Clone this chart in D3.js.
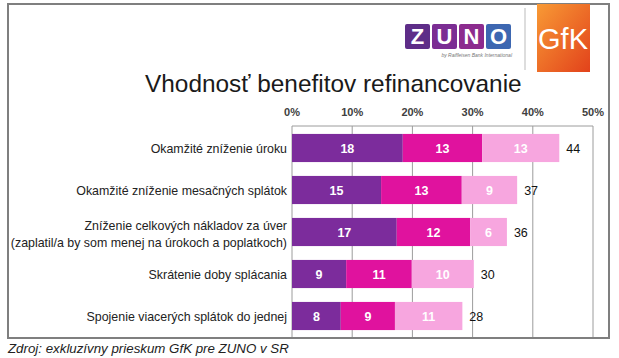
<!DOCTYPE html>
<html lang="sk">
<head>
<meta charset="UTF-8">
<script src="https://d3js.org/d3.v7.min.js"></script>
<style>
  body { margin: 0; background: #fff; }
  svg text { font-family: "Liberation Sans", Arial, sans-serif; }
</style>
</head>
<body>
<div id="chart"></div>
<script>
// categories (top to bottom), line breaks with \n
const categories = [
  "Okamžité zníženie úroku",
  "Okamžité zníženie mesačných splátok",
  "Zníženie celkových nákladov za úver\n(zaplatil/a by som menej na úrokoch a poplatkoch)",
  "Skrátenie doby splácania",
  "Spojenie viacerých splátok do jednej"
]
// three stacked parts, in percent
const part1 = [18.4, 14.8, 17.4, 9.0, 8.1]
const part2 = [13.2, 13.4, 12.2, 10.9, 9.0]
const part3 = [12.8, 9.2, 6.1, 10.3, 11.2]
const partColors = ["#7c2c9c", "#e0129e", "#f7a6df"]
const ticks = [0, 10, 20, 30, 40, 50]

const W = 619, H = 358
const svg = d3.select("#chart").append("svg")
  .attr("width", W).attr("height", H)

// frame
svg.append("rect")
  .attr("x", 8).attr("y", 4).attr("width", 601).attr("height", 334)
  .attr("fill", "none").attr("stroke", "#7f7f7f").attr("stroke-width", 2)

// logos
const zuno = [["Z", "#5e2d88"], ["U", "#7b2d93"], ["N", "#8c2b8e"], ["O", "#3d67b1"]]
const lg = svg.append("g").attr("transform", "translate(405,24)")
zuno.forEach((d, i) => {
  lg.append("rect").attr("x", i * 27).attr("y", 0).attr("width", 25).attr("height", 25)
    .attr("rx", 2).attr("fill", d[1])
  lg.append("text").attr("x", i * 27 + 12.5).attr("y", 20).attr("text-anchor", "middle")
    .attr("fill", "#fff").attr("font-size", 22).attr("font-weight", "bold").text(d[0])
})
lg.append("text").attr("x", 107).attr("y", 33).attr("text-anchor", "end")
  .attr("font-size", 5).attr("font-style", "italic").attr("fill", "#777")
  .text("by Raiffeisen Bank International")

svg.append("line").attr("x1", 525).attr("x2", 525).attr("y1", 8).attr("y2", 70)
  .attr("stroke", "#bbb").attr("stroke-width", 1)

const grad = svg.append("defs").append("linearGradient").attr("id", "gfk")
  .attr("x1", 0).attr("y1", 0).attr("x2", 1).attr("y2", 1)
grad.append("stop").attr("offset", "0%").attr("stop-color", "#f89a35")
grad.append("stop").attr("offset", "100%").attr("stop-color", "#e2421b")
svg.append("rect").attr("x", 537).attr("y", 4).attr("width", 53).attr("height", 68).attr("fill", "url(#gfk)")
svg.append("text").attr("x", 563).attr("y", 49).attr("text-anchor", "middle")
  .attr("fill", "#fff").attr("font-size", 29).text("GfK")

// title
svg.append("text").attr("x", 145).attr("y", 92)
  .attr("font-size", 24.4).attr("fill", "#1a1a1a")
  .text("Vhodnosť benefitov refinancovanie")

// scales
const x = d3.scaleLinear().domain([0, 50]).range([292, 593])
const y = d3.scaleBand().domain(d3.range(categories.length)).range([127, 337]).paddingInner(0.33).paddingOuter(0.165)

// grid + axis
const ax = svg.append("g")
ax.selectAll("line.grid").data(ticks).join("line")
  .attr("x1", d => x(d)).attr("x2", d => x(d))
  .attr("y1", 126).attr("y2", 337)
  .attr("stroke", "#9c9c9c").attr("stroke-width", 1)
ax.append("line").attr("x1", x(0)).attr("x2", x(50)).attr("y1", 126).attr("y2", 126)
  .attr("stroke", "#9c9c9c")
ax.selectAll("text").data(ticks).join("text")
  .attr("x", d => x(d)).attr("y", 116).attr("text-anchor", "middle")
  .attr("font-size", 11).attr("font-weight", "bold").attr("fill", "#404040")
  .text(d => d + "%")

// stacked bars
const parts = [part1, part2, part3]
categories.forEach((c, i) => {
  let acc = 0
  parts.forEach((p, k) => {
    const v = p[i]
    const x0 = x(acc), x1 = x(acc + v)
    svg.append("rect").attr("x", x0).attr("y", y(i)).attr("width", x1 - x0)
      .attr("height", y.bandwidth()).attr("fill", partColors[k])
    svg.append("text").attr("x", (x0 + x1) / 2).attr("y", y(i) + y.bandwidth() / 2 + 4.5)
      .attr("text-anchor", "middle").attr("font-size", 12.5).attr("font-weight", "bold")
      .attr("fill", "#fff").text(Math.round(v))
    acc += v
  })
  svg.append("text").attr("x", x(acc) + 7).attr("y", y(i) + y.bandwidth() / 2 + 4.5)
    .attr("font-size", 12.5).attr("fill", "#111").text(Math.round(acc))

  const lines = c.split("\n")
  const t = svg.append("text").attr("text-anchor", "end").attr("font-size", 12.4).attr("fill", "#222")
  const cy = y(i) + y.bandwidth() / 2 + 4.5 - (lines.length - 1) * 7
  lines.forEach((l, j) => {
    t.append("tspan").attr("x", 287).attr("y", cy + j * 17).text(l)
  })
})

// source
svg.append("text").attr("x", 8).attr("y", 353)
  .attr("font-size", 13.3).attr("font-style", "italic").attr("fill", "#222")
  .text("Zdroj: exkluzívny prieskum GfK pre ZUNO v SR")
</script>
</body>
</html>
